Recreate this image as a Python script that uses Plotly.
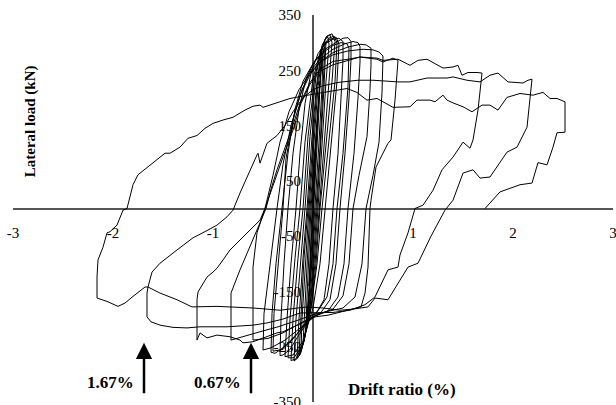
import plotly.graph_objects as go

# ---- data (drift %, lateral load kN) ----
core_pts = [
    (0, 0),
    (0.02, 80), (0.04, 150), (0.03, 120), (0.01, 40), (0.0, 0), (-0.02, -70), (-0.04, -140), (-0.03, -100), (-0.01, 0),
    (0.02, 90), (0.05, 190), (0.07, 230), (0.06, 180), (0.03, 80), (0.01, 0), (-0.02, -90), (-0.05, -170), (-0.07, -210), (-0.06, -160), (-0.04, -70), (-0.02, 0),
    (0.02, 100), (0.05, 180), (0.08, 250), (0.1, 275), (0.09, 220), (0.06, 120), (0.02, 0), (-0.02, -110), (-0.05, -180), (-0.08, -230), (-0.1, -245), (-0.08, -170), (-0.05, -60), (-0.03, 0),
    (0.02, 110), (0.06, 210), (0.09, 265), (0.11, 290), (0.12, 292), (0.1, 210), (0.07, 110), (0.03, 0), (-0.01, -100), (-0.05, -190), (-0.09, -240), (-0.12, -258), (-0.11, -200), (-0.08, -110), (-0.04, 0),
    (0.01, 120), (0.05, 220), (0.09, 275), (0.12, 300), (0.13, 302), (0.11, 220), (0.08, 120), (0.04, 0), (0.0, -100), (-0.04, -180), (-0.08, -230), (-0.12, -260), (-0.14, -265), (-0.12, -190), (-0.09, -90), (-0.05, 0),
    (0.0, 130), (0.04, 220), (0.09, 285), (0.12, 306), (0.15, 310), (0.16, 296), (0.13, 230), (0.09, 110), (0.05, 0), (0.01, -100), (-0.03, -175), (-0.08, -230), (-0.13, -265), (-0.16, -270), (-0.14, -200), (-0.1, -90), (-0.06, 0),
    (-0.01, 130), (0.04, 230), (0.09, 290), (0.13, 310), (0.17, 314), (0.19, 300), (0.16, 230), (0.11, 110), (0.06, 0), (0.02, -100), (-0.03, -180), (-0.09, -240), (-0.15, -270), (-0.19, -276), (-0.17, -200), (-0.12, -90), (-0.08, 0),
    (-0.03, 130), (0.03, 240), (0.09, 295), (0.14, 312), (0.19, 316), (0.22, 302), (0.19, 230), (0.13, 110), (0.07, 0), (0.03, -100), (-0.02, -180), (-0.09, -240), (-0.17, -272), (-0.22, -275), (-0.2, -200), (-0.15, -90), (-0.1, 0),
    (-0.05, 130), (0.02, 240), (0.09, 292), (0.16, 308), (0.21, 312), (0.24, 300), (0.22, 230), (0.15, 110), (0.09, 0), (0.04, -100), (-0.02, -180), (-0.1, -245), (-0.19, -270), (-0.25, -270), (-0.23, -200), (-0.18, -90), (-0.13, 0),
    (-0.08, 120), (0.0, 235), (0.08, 288), (0.16, 305), (0.23, 310), (0.26, 298), (0.24, 230), (0.18, 110), (0.12, 0), (0.07, -100), (0.0, -180), (-0.1, -240), (-0.2, -265), (-0.28, -268), (-0.26, -200), (-0.22, -100), (-0.17, 0),
]

mid_pts = [
    (-0.17, 0),
    (-0.13, 100), (-0.08, 190), (-0.02, 245), (0.05, 280), (0.12, 298), (0.2, 306), (0.26, 308), (0.3, 302), (0.3, 270), (0.28, 200), (0.25, 100), (0.2, 0), (0.16, -100), (0.11, -165), (0.03, -190), (-0.05, -205), (-0.14, -228), (-0.23, -255), (-0.3, -265), (-0.33, -266), (-0.32, -200), (-0.29, -100), (-0.25, 0),
    (-0.2, 100), (-0.14, 180), (-0.07, 235), (0.02, 268), (0.12, 288), (0.22, 300), (0.3, 308), (0.35, 309), (0.38, 302), (0.38, 270), (0.36, 200), (0.32, 100), (0.27, 0), (0.23, -100), (0.17, -165), (0.08, -188), (-0.02, -198), (-0.15, -225), (-0.3, -252), (-0.38, -262), (-0.42, -260), (-0.41, -190), (-0.37, -100), (-0.31, 0),
    (-0.25, 100), (-0.18, 180), (-0.1, 230), (0.0, 262), (0.1, 282), (0.2, 295), (0.28, 300), (0.34, 298), (0.36, 290), (0.35, 220), (0.3, 100), (0.24, 0), (0.2, -100), (0.14, -160), (0.05, -185), (-0.05, -200), (-0.18, -232), (-0.3, -255), (-0.4, -258), (-0.39, -190), (-0.35, -100), (-0.3, 0),
    (-0.27, 90), (-0.2, 160), (-0.11, 215), (-0.02, 250), (0.08, 272), (0.2, 288), (0.32, 298), (0.4, 302), (0.45, 300), (0.47, 293), (0.47, 265), (0.45, 200), (0.41, 100), (0.35, 0), (0.31, -100), (0.25, -160), (0.15, -185), (0.02, -195), (-0.12, -215), (-0.28, -238), (-0.42, -252), (-0.5, -256), (-0.49, -190), (-0.43, -100), (-0.36, 0),
    (-0.3, 80), (-0.22, 150), (-0.13, 205), (-0.03, 242), (0.07, 265), (0.2, 282), (0.35, 292), (0.47, 297), (0.53, 296), (0.58, 290), (0.58, 260), (0.57, 215), (0.54, 130), (0.46, 60), (0.4, 0), (0.36, -100), (0.3, -158), (0.2, -182), (0.05, -192), (-0.1, -205), (-0.3, -225), (-0.45, -235), (-0.6, -238), (-0.6, -180), (-0.6, -106), (-0.56, -44), (-0.48, 0),
    (-0.4, 60), (-0.33, 120), (-0.24, 175), (-0.14, 215), (-0.03, 245), (0.07, 265), (0.2, 278), (0.35, 285), (0.5, 288), (0.6, 287), (0.66, 283), (0.7, 276), (0.69, 210), (0.66, 120), (0.6, 60), (0.53, 0), (0.49, -100), (0.42, -160), (0.3, -180), (0.15, -186), (0.0, -192), (-0.15, -202), (-0.35, -214), (-0.55, -224), (-0.72, -232), (-0.82, -238), (-0.82, -153), (-0.73, -111), (-0.53, -26), (-0.47, 0),
    (-0.42, 35), (-0.36, 70), (-0.3, 100), (-0.22, 140), (-0.13, 190), (-0.03, 228), (0.07, 252), (0.2, 266), (0.35, 270), (0.47, 274), (0.64, 270), (0.7, 265), (0.8, 272), (0.85, 268),
    (0.82, 196), (0.78, 124), (0.75, 118), (0.68, 93), (0.63, 75), (0.58, 15), (0.57, 0), (0.55, -106), (0.52, -153), (0.48, -178), (0.35, -184), (0.15, -193), (0.02, -196), (-0.15, -210), (-0.3, -223), (-0.36, -225), (-0.46, -232), (-0.6, -241), (-0.7, -243), (-0.73, -238), (-0.83, -232), (-0.96, -229), (-1.06, -234), (-1.13, -225), (-1.16, -238),
    (-1.16, -165), (-1.15, -151), (-1.06, -124), (-1.0, -115), (-0.96, -108), (-0.9, -93), (-0.83, -75), (-0.73, -57), (-0.63, -39), (-0.53, -21), (-0.48, 0), (-0.36, 64), (-0.3, 93), (-0.2, 142),
]

big1_pts = [
    (-0.2, 142), (-0.12, 190), (-0.03, 225), (0.07, 248), (0.2, 260), (0.35, 268), (0.47, 274), (0.64, 272), (0.7, 268), (0.85, 270), (0.97, 259), (1.05, 268), (1.14, 270), (1.22, 262), (1.30, 254), (1.40, 256), (1.45, 259), (1.49, 241), (1.55, 246), (1.64, 246), (1.69, 245),
    (1.65, 178), (1.60, 124), (1.57, 109), (1.50, 120), (1.40, 93), (1.29, 70), (1.20, 33), (1.10, 6), (1.02, 0), (0.99, -21), (0.95, -44), (0.87, -84), (0.85, -106), (0.75, -111), (0.62, -160), (0.52, -174), (0.37, -184), (0.20, -188), (0.0, -189), (-0.13, -189), (-0.3, -200), (-0.46, -207), (-0.6, -211), (-0.86, -214), (-1.13, -214), (-1.26, -216), (-1.4, -215), (-1.53, -211), (-1.62, -205), (-1.66, -196),
    (-1.66, -153), (-1.65, -142), (-1.61, -115), (-1.53, -99), (-1.36, -75), (-1.20, -53), (-1.05, -39), (-0.96, -30), (-0.86, -15), (-0.80, -3), (-0.73, 28), (-0.63, 70), (-0.56, 97), (-0.55, 100), (-0.53, 82), (-0.46, 118), (-0.36, 132), (-0.28, 150), (-0.2, 175), (-0.1, 200), (0.0, 215), (0.1, 222), (0.25, 228), (0.45, 232), (0.6, 232), (0.85, 229), (0.97, 229), (1.14, 236), (1.34, 236), (1.40, 238), (1.54, 232), (1.67, 229), (1.77, 241), (1.85, 245), (1.95, 229), (2.10, 227), (2.15, 232), (2.19, 234),
]

big2_pts = [
    (2.19, 234), (2.17, 202), (2.14, 147), (2.04, 111), (1.94, 102), (1.77, 57), (1.67, 55), (1.60, 70), (1.50, 64), (1.40, 15), (1.34, 0), (1.32, -3), (1.18, -50), (1.05, -99), (0.95, -106), (0.85, -135), (0.75, -165), (0.62, -162), (0.55, -178), (0.4, -182), (0.27, -184), (0.1, -180), (-0.06, -178), (-0.33, -184), (-0.60, -180), (-0.96, -177), (-1.21, -178), (-1.36, -165), (-1.53, -153), (-1.65, -142), (-1.68, -142), (-1.80, -159), (-1.88, -171), (-1.95, -177), (-2.06, -168), (-2.16, -162),
    (-2.16, -124), (-2.15, -93), (-2.10, -70), (-2.06, -44), (-2.03, -42), (-1.96, -30), (-1.90, -3), (-1.86, 0), (-1.80, 43), (-1.75, 61), (-1.63, 79), (-1.48, 100), (-1.43, 100), (-1.33, 111), (-1.25, 127), (-1.16, 132), (-1.08, 145), (-1.00, 154), (-0.90, 160), (-0.80, 165), (-0.68, 178), (-0.60, 185), (-0.53, 187), (-0.50, 183),
]

big3_pts = [
    (-0.50, 183), (-0.36, 192), (-0.23, 199), (0.04, 208), (0.34, 217), (0.44, 210), (0.54, 196), (0.64, 199), (0.80, 183), (0.97, 184), (1.04, 196), (1.17, 196), (1.22, 193), (1.30, 205), (1.34, 196), (1.40, 191), (1.50, 184), (1.59, 175), (1.69, 187), (1.77, 187), (1.85, 178), (1.94, 201), (2.07, 208), (2.20, 205), (2.30, 210), (2.37, 199), (2.44, 199), (2.52, 193),
    (2.52, 138), (2.44, 137), (2.40, 111), (2.34, 79), (2.25, 83), (2.19, 46), (2.07, 43), (1.87, 30), (1.74, 3), (1.72, 0),
]

x_tick_vals = [-3, -2, -1, 1, 2, 3]
x_tick_text = ["-3", "-2", "-1", "1", "2", "3"]
y_tick_vals = [-350, -250, -150, -50, 50, 150, 250, 350]
y_tick_text = ["-350", "-250", "-150", "-50", "50", "150", "250", "350"]

arrow_drifts = [-1.69, -0.62]
arrow_labels = ["1.67%", "0.67%"]
arrow_label_x = [-2.03, -0.96]

FONT = "Liberation Serif"

fig = go.Figure()
for pts in [core_pts, mid_pts, big1_pts, big2_pts, big3_pts]:
    fig.add_trace(go.Scatter(
        x=[p[0] for p in pts], y=[p[1] for p in pts], mode="lines",
        line=dict(color="black", width=1), hoverinfo="skip", showlegend=False))

annotations = []
for xd, lab, lx in zip(arrow_drifts, arrow_labels, arrow_label_x):
    annotations.append(dict(x=xd, y=-243, xref="x", yref="y", ax=0, ay=52,
                            text="", showarrow=True, arrowhead=2, arrowsize=1.3,
                            arrowwidth=2.5, arrowcolor="black"))
    annotations.append(dict(x=lx, y=-315, xref="x", yref="y", text="<b>%s</b>" % lab,
                            showarrow=False, font=dict(family=FONT, size=17, color="black")))
annotations.append(dict(x=0.89, y=-328, xref="x", yref="y", text="<b>Drift ratio (%)</b>",
                        showarrow=False, font=dict(family=FONT, size=17, color="black")))
annotations.append(dict(x=-2.825, y=157, xref="x", yref="y", text="<b>Lateral load (kN)</b>",
                        textangle=-90, showarrow=False,
                        font=dict(family=FONT, size=15, color="black")))

fig.update_layout(
    width=616, height=405,
    margin=dict(l=13, r=3, t=15, b=3, autoexpand=False),
    paper_bgcolor="white", plot_bgcolor="white",
    showlegend=False,
    font=dict(family=FONT, size=15, color="black"),
    xaxis=dict(range=[-3, 3], tickvals=x_tick_vals, ticktext=x_tick_text,
               showgrid=False, zeroline=True, zerolinecolor="#555555", zerolinewidth=2,
               showline=False, anchor="free", position=0.5, automargin=False,
               ticks="outside", ticklen=10, tickcolor="rgba(0,0,0,0)",
               ticklabeloverflow="allow",
               layer="below traces", tickfont=dict(family=FONT, size=15, color="black")),
    yaxis=dict(range=[-350, 350], tickvals=y_tick_vals, ticktext=y_tick_text,
               showgrid=False, zeroline=True, zerolinecolor="#555555", zerolinewidth=2,
               showline=False, anchor="free", position=0.5, automargin=False,
               ticks="outside", ticklen=9, tickcolor="rgba(0,0,0,0)",
               ticklabeloverflow="allow",
               layer="below traces", tickfont=dict(family=FONT, size=15, color="black")),
    annotations=annotations,
)

fig.write_html("out.html")
